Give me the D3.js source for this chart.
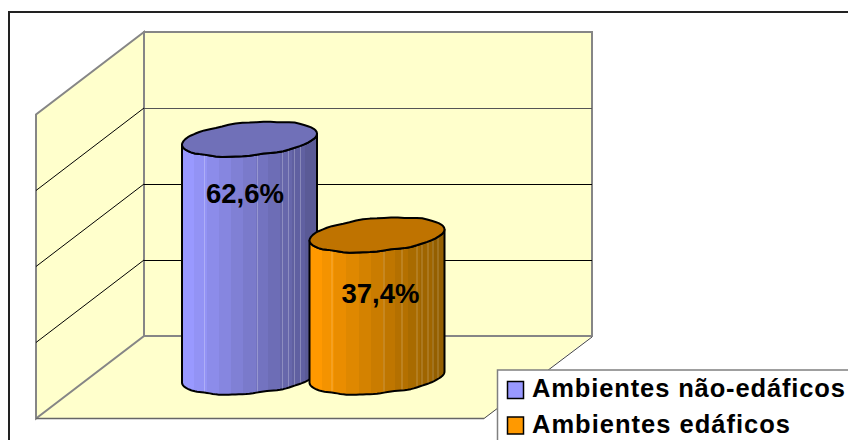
<!DOCTYPE html>
<html>
<head>
<meta charset="utf-8">
<script src="https://cdn.jsdelivr.net/npm/d3@7"></script>
<style>
  html, body { margin: 0; padding: 0; background: #fff; overflow: hidden; }
  text { font-family: "Liberation Sans", Arial, sans-serif; font-weight: bold; fill: #000; }
</style>
</head>
<body>
<div class="chart"></div>
<script>
var series = ["Ambientes não-edáficos", "Ambientes edáficos"];
var values = [62.6, 37.4];
var labels = ["62,6%", "37,4%"];
var ticks = [0, 20, 40, 60, 80];
var sideColors = [["#8f8fee", "#9999ff", "#5a5a96"], ["#f09000", "#ff9900", "#945f00"]];
var topColors = ["#7070b8", "#bf7300"];

var width = 848, height = 440;
var svg = d3.select(".chart").append("svg")
  .attr("width", width)
  .attr("height", height)
  .style("display", "block");

// back wall box, the depth goes down and to the left
var wall = {left: 144, right: 592, bottom: 336};
var depth = {x: -108, y: 82.5};

var y = d3.scaleLinear().domain([0, 80]).range([wall.bottom, 32]);
var x = d3.scalePoint().domain(series).range([249.5, 377]);
var h = d3.scaleLinear().domain([0, 80]).range([0, 304]);

var baseY = 377;
var rx = 67.5, ry = 16.6, skew = 5.5;

var wallFill = "#ffffcc", wallStroke = "#868686";

// outer frame
svg.append("rect")
  .attr("x", 9).attr("y", 12)
  .attr("width", width + 20).attr("height", height + 20)
  .attr("fill", "#fff").attr("stroke", "#222").attr("stroke-width", 2);

// floor, left wall, back wall
svg.append("polygon")
  .attr("points", [[wall.left, wall.bottom], [wall.right, wall.bottom], [wall.right + depth.x, wall.bottom + depth.y], [wall.left + depth.x, wall.bottom + depth.y]].join(" "))
  .attr("fill", wallFill);
svg.append("polygon")
  .attr("points", [[wall.left, y(80)], [wall.left, wall.bottom], [wall.left + depth.x, wall.bottom + depth.y], [wall.left + depth.x, y(80) + depth.y]].join(" "))
  .attr("fill", wallFill).attr("stroke", wallStroke).attr("stroke-width", 2);
svg.append("rect")
  .attr("x", wall.left).attr("y", y(80))
  .attr("width", wall.right - wall.left).attr("height", wall.bottom - y(80))
  .attr("fill", wallFill).attr("stroke", wallStroke).attr("stroke-width", 2);

// floor edges
svg.append("line")
  .attr("x1", wall.left + depth.x).attr("y1", wall.bottom + depth.y)
  .attr("x2", wall.right + depth.x).attr("y2", wall.bottom + depth.y)
  .attr("stroke", "#666").attr("stroke-width", 1.5);
svg.append("line")
  .attr("x1", wall.right).attr("y1", wall.bottom + 1)
  .attr("x2", wall.right + depth.x).attr("y2", wall.bottom + depth.y)
  .attr("stroke", "#444").attr("stroke-width", 1);

// gridlines on both walls
var inner = ticks.filter(function(t) { return t > 0 && t < 80; });
svg.selectAll(".grid-back").data(inner).enter().append("line")
  .attr("class", "grid-back")
  .attr("x1", wall.left).attr("x2", wall.right)
  .attr("y1", function(d) { return Math.round(y(d)) + 0.5; })
  .attr("y2", function(d) { return Math.round(y(d)) + 0.5; })
  .attr("stroke", function(d) { return d == 60 ? "#555" : "#000"; })
  .attr("stroke-width", 1);
svg.selectAll(".grid-side").data(inner).enter().append("line")
  .attr("class", "grid-side")
  .attr("x1", wall.left).attr("y1", function(d) { return y(d); })
  .attr("x2", wall.left + depth.x).attr("y2", function(d) { return y(d) + depth.y; })
  .attr("stroke", "#000").attr("stroke-width", 1);

// a point on the tilted ellipse, with the small ripple the original outline has
function ellipsePoint(cx, cy, t) {
  var ripple = 0.4 * Math.sin(t * 7 + 1) + 0.3 * Math.sin(t * 13);
  return [cx + rx * Math.cos(t), cy - skew * Math.cos(t) + (ry + ripple) * Math.sin(t)];
}

function arcPoints(cx, cy, t0, t1) {
  var pts = [];
  for (var i = 0; i <= 60; i++) {
    pts.push(ellipsePoint(cx, cy, t0 + (t1 - t0) * i / 60));
  }
  return pts;
}

var line = d3.line();
var defs = svg.append("defs");

// seams of the faceted cylinder, px from its left side
var seams = [[22.5, 75.5, 100.5, 106.5, 112.5, 118.5], [22.5, 74.5, 92.5, 107.5, 112.5, 118.5, 123.5, 128.5]];

series.forEach(function(name, i) {
  var cx = x(name);
  var topY = baseY - h(values[i]);
  var left = cx - rx;

  // stepped shading
  var grad = defs.append("linearGradient")
    .attr("id", "side" + i)
    .attr("gradientUnits", "userSpaceOnUse")
    .attr("x1", left).attr("x2", cx + rx).attr("y1", 0).attr("y2", 0);
  var colors = sideColors[i];
  var steps = 11;
  for (var s = 0; s < steps; s++) {
    var f = s / (steps - 1);
    var c = s == 0 ? colors[1] : d3.interpolateRgb(colors[1], colors[2])(f);
    grad.append("stop").attr("offset", s / steps).attr("stop-color", c);
    grad.append("stop").attr("offset", (s + 1) / steps).attr("stop-color", c);
  }

  var body = arcPoints(cx, topY, Math.PI, 0)
    .concat(arcPoints(cx, baseY, 0, Math.PI));
  var g = svg.append("g").attr("class", "bar");

  g.append("path")
    .attr("d", line(body) + "Z")
    .attr("fill", "url(#side" + i + ")")
    .attr("stroke", "#000").attr("stroke-width", 2).attr("stroke-linejoin", "round");

  // light seams on the side
  seams[i].forEach(function(off) {
    var t = Math.acos((left + off - cx) / rx);
    var a = ellipsePoint(cx, topY, t);
    var b = ellipsePoint(cx, baseY, t);
    g.append("line")
      .attr("x1", a[0]).attr("y1", a[1])
      .attr("x2", b[0]).attr("y2", b[1] - 1)
      .attr("stroke", "#fff").attr("stroke-opacity", 0.25).attr("stroke-width", 1);
  });

  g.append("path")
    .attr("d", line(arcPoints(cx, topY, 0, 2 * Math.PI)) + "Z")
    .attr("fill", topColors[i])
    .attr("stroke", "#000").attr("stroke-width", 2).attr("stroke-linejoin", "round");
});

// the value labels go on top of every bar
svg.selectAll(".value").data(series).enter().append("text")
  .attr("class", "value")
  .attr("x", function(d, i) { return x(d) + (i == 0 ? -4.5 : 3.5); })
  .attr("y", function(d, i) { return baseY - h(values[i]) + (i == 0 ? 64 : 68); })
  .attr("text-anchor", "middle")
  .style("font-size", "27.5px")
  .text(function(d, i) { return labels[i]; });

// legend, runs off the right and bottom of the picture
svg.append("rect")
  .attr("x", 497.5).attr("y", 370)
  .attr("width", 400).attr("height", 120)
  .attr("fill", "#fff").attr("stroke", "#808080").attr("stroke-width", 1.5);

var legend = svg.selectAll(".legend").data(series).enter().append("g")
  .attr("class", "legend")
  .attr("transform", function(d, i) { return "translate(0," + (i * 35.5) + ")"; });
legend.append("rect")
  .attr("x", 507.5).attr("y", 381.5)
  .attr("width", 16).attr("height", 17)
  .attr("fill", function(d, i) { return sideColors[i][1]; })
  .attr("stroke", "#000").attr("stroke-width", 1.5);
legend.append("text")
  .attr("x", 532).attr("y", 397)
  .attr("textLength", function(d, i) { return i == 0 ? 313 : 258; })
  .style("font-size", "25.5px")
  .text(function(d) { return d; });
</script>
</body>
</html>
